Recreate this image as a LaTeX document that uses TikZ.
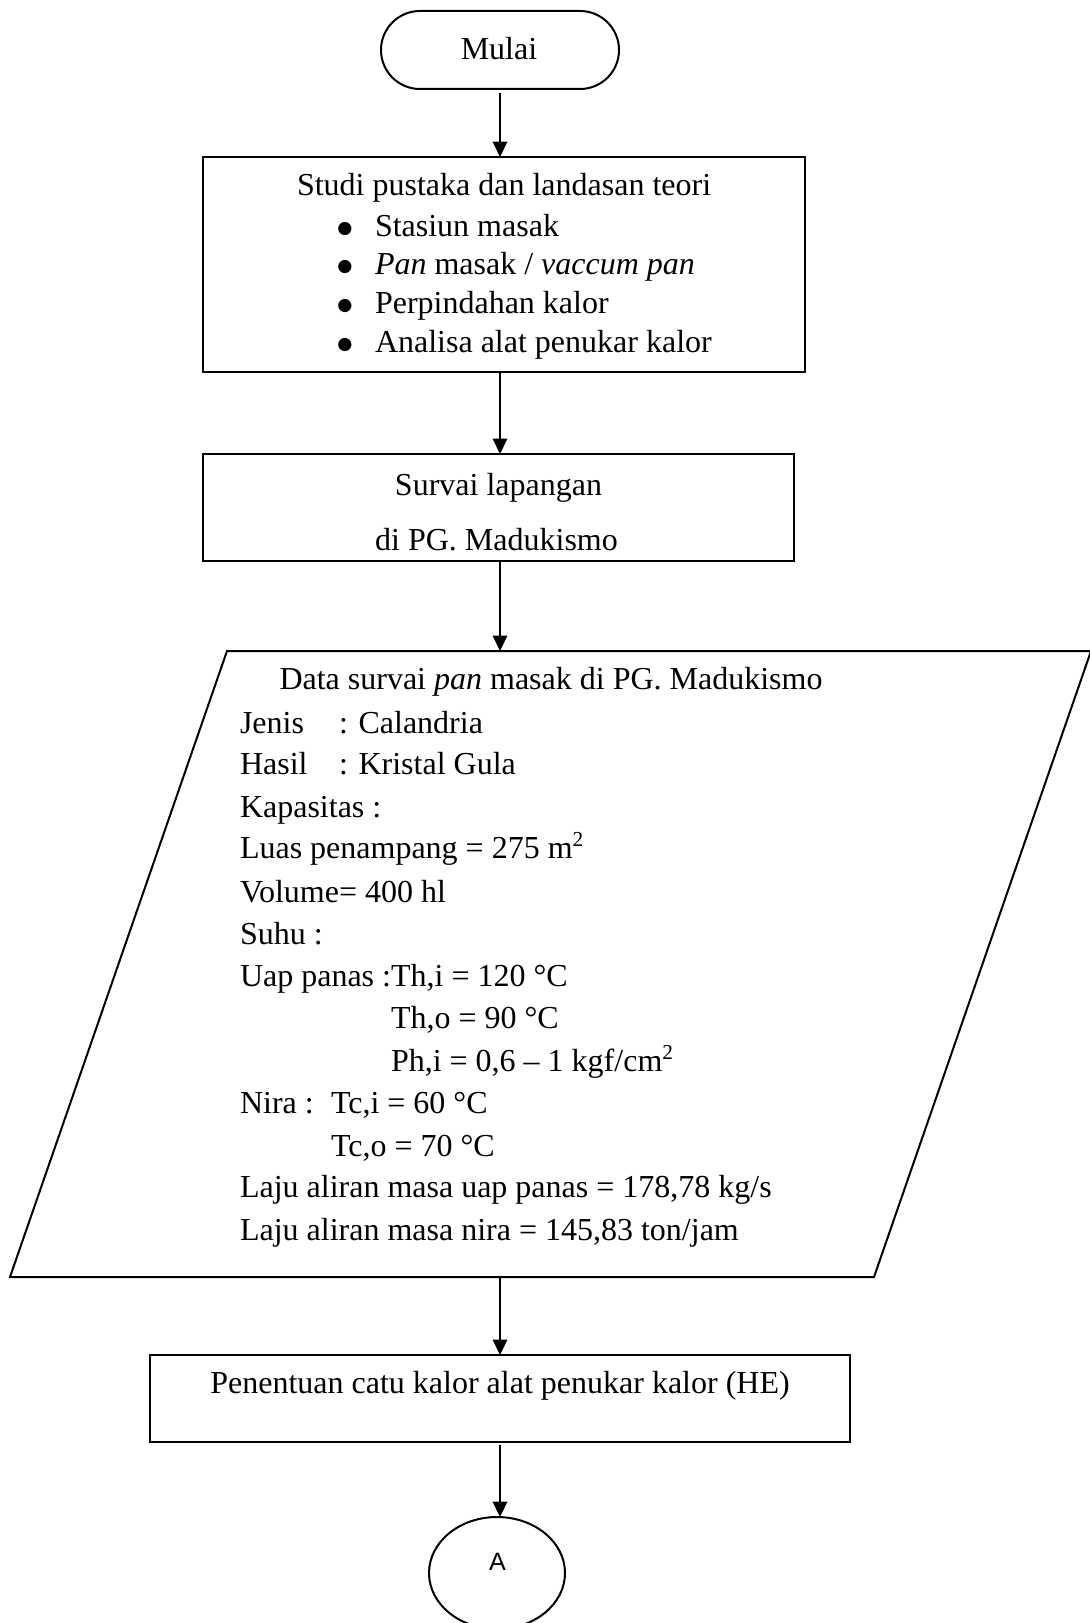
\documentclass[tikz,border=0pt]{standalone}
\usepackage{fontspec}
\setmainfont{Liberation Serif}
\newfontfamily\sansA{Liberation Sans}
\newfontfamily\dvs{DejaVu Sans}
\usetikzlibrary{arrows.meta,shapes.geometric}
\def\pxu{0.375pt}
\begin{document}
\begin{tikzpicture}[x=0.375pt,y=-0.375pt,
  box/.style={draw,line width=0.75pt,inner sep=0pt,outer sep=0pt},
  txt/.style={inner sep=0pt,outer sep=0pt,font=\fontsize{12}{14}\selectfont},
  lt/.style={txt,anchor=base west},
  ct/.style={txt,anchor=base},
  bul/.style={inner sep=0pt,outer sep=0pt,anchor=base,font=\dvs\fontsize{6.5}{7}\selectfont},
  arr/.style={line width=0.9pt,-{Triangle[length=5.8pt,width=5.4pt]}}]
\useasboundingbox (0,0) rectangle (1090,1623);

% shapes
\node[box,rounded corners=14.6pt,minimum width=238*\pxu,minimum height=78*\pxu] (mulai) at (500,50) {};
\node[box,minimum width=601.5*\pxu,minimum height=215*\pxu] (studi) at (503.75,264.5) {};
\node[box,minimum width=591*\pxu,minimum height=107*\pxu] (survai) at (498.5,507.5) {};
\coordinate (pa) at (227,651);
\coordinate (pb) at (1091,651);
\coordinate (pc) at (874,1277);
\coordinate (pd) at (10,1277);
\draw[line width=0.75pt,line join=miter] (pa) -- (pb) -- (pc) -- (pd) -- cycle;
\coordinate (ptop) at (500,651);
\coordinate (pbot) at (500,1277);
\node[box,minimum width=700*\pxu,minimum height=87*\pxu] (pen) at (500,1398.5) {};
\node[box,ellipse,minimum width=136*\pxu,minimum height=112*\pxu] (ell) at (497,1573) {};

% connectors
\draw[arr,shorten <=4*\pxu] (mulai.south) -- (studi.north -| mulai.south);
\draw[arr] (studi.south -| mulai.south) -- (survai.north -| mulai.south);
\draw[arr] (survai.south -| mulai.south) -- (ptop);
\draw[arr] (pbot) -- (pen.north -| mulai.south);
\draw[arr,shorten <=3*\pxu] (pen.south -| mulai.south) -- (ell.north -| mulai.south);

% texts
\node[ct] (tmulai) at (499,60) {Mulai};
\node[lt] (ts0) at (297,195) {Studi pustaka dan landasan teori};
\node[bul] (tb1) at (345,233.6) {●};
\node[bul] (tb2) at (345,271.6) {●};
\node[bul] (tb3) at (345,310.6) {●};
\node[bul] (tb4) at (345,349.6) {●};
\node[lt] (ts1) at (375,236) {Stasiun masak};
\node[lt] (ts2) at (375,274) {\textit{Pan} masak / \textit{vaccum pan}};
\node[lt] (ts3) at (375,313) {Perpindahan kalor};
\node[lt] (ts4) at (375,352) {Analisa alat penukar kalor};

\node[ct] (tv1) at (498.5,495) {Survai lapangan};
\node[ct] (tv2) at (496.5,550) {di PG. Madukismo};

\node[lt] (d0) at (279.5,689) {Data survai \textit{pan} masak di PG. Madukismo};
\node[lt] (d1a) at (240,733) {Jenis};
\node[lt] (d1b) at (339,733) {: Calandria};
\node[lt] (d2a) at (240,774) {Hasil};
\node[lt] (d2b) at (339,774) {: Kristal Gula};
\node[lt] (d3) at (240,817) {Kapasitas :};
\node[lt] (d4) at (240,858) {Luas penampang = 275 m\textsuperscript{2}};
\node[lt] (d5) at (240,902) {Volume= 400 hl};
\node[lt] (d6) at (240,944) {Suhu :};
\node[lt] (d7) at (240,986) {Uap panas :Th,i = 120 °C};
\node[lt] (d8) at (391,1028) {Th,o = 90 °C};
\node[lt] (d9) at (391,1071) {Ph,i = 0,6 – 1 kgf/cm\textsuperscript{2}};
\node[lt] (d10a) at (240,1113) {Nira :};
\node[lt] (d10b) at (331,1113) {Tc,i = 60 °C};
\node[lt] (d11) at (331,1156) {Tc,o = 70 °C};
\node[lt] (d12) at (240,1197) {Laju aliran masa uap panas = 178,78 kg/s};
\node[lt] (d13) at (240,1240) {Laju aliran masa nira = 145,83 ton/jam};

\node[ct] (tpen) at (500,1393) {Penentuan catu kalor alat penukar kalor (HE)};
\node[inner sep=0pt,anchor=base,font=\sansA\fontsize{9.4}{11}\selectfont] (tA) at (497.5,1570) {A};
\end{tikzpicture}
\end{document}
